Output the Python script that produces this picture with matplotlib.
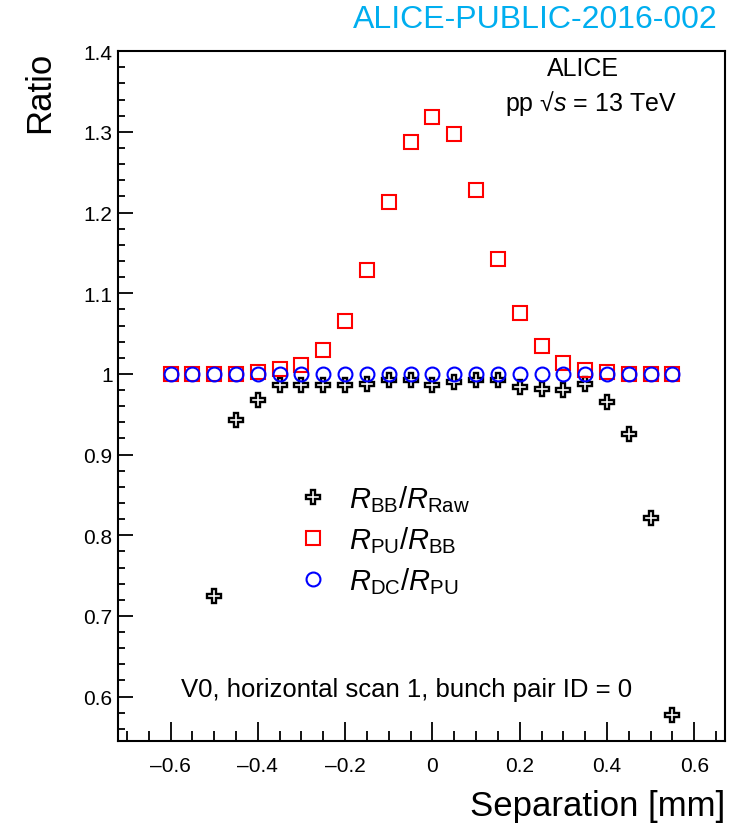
import matplotlib
matplotlib.use("Agg")
import matplotlib.pyplot as plt
from matplotlib.ticker import MultipleLocator, FuncFormatter

plt.rcParams["font.family"] = ["Liberation Sans", "DejaVu Sans"]
plt.rcParams["mathtext.fontset"] = "custom"
plt.rcParams["mathtext.rm"] = "Liberation Sans"
plt.rcParams["mathtext.it"] = "Liberation Sans:italic"
plt.rcParams["mathtext.bf"] = "Liberation Sans:bold"

# separation [mm]
sep = [-0.60, -0.55, -0.50, -0.45, -0.40, -0.35, -0.30, -0.25, -0.20, -0.15, -0.10, -0.05,
       0.00, 0.05, 0.10, 0.15, 0.20, 0.25, 0.30, 0.35, 0.40, 0.45, 0.50, 0.55]

# R_BB / R_Raw (first two points fall below the plotted range)
sep_bb = sep[2:]
bb_raw = [0.725, 0.943, 0.968, 0.986, 0.986, 0.986, 0.986, 0.988, 0.992, 0.993,
          0.986, 0.990, 0.992, 0.992, 0.984, 0.981, 0.980, 0.988, 0.965, 0.925,
          0.821, 0.577]

# R_PU / R_BB
pu_bb = [1.000, 1.000, 1.000, 1.000, 1.002, 1.006, 1.011, 1.030, 1.066, 1.129, 1.213, 1.287,
         1.319, 1.298, 1.228, 1.143, 1.075, 1.034, 1.013, 1.005, 1.002, 1.000, 1.000, 1.000]

# R_DC / R_PU
dc_pu = [1.000] * len(sep)

fig = plt.figure(figsize=(7.48, 8.29), dpi=100)
ax = fig.add_axes([0.158, 0.105, 0.811, 0.832])

h1, = ax.plot(sep_bb, bb_raw, linestyle="none", marker="P", markersize=10,
              markerfacecolor="white", markeredgecolor="black", markeredgewidth=1.7,
              label=r"$R_{\rm BB}/R_{\rm Raw}$")
h2, = ax.plot(sep, pu_bb, linestyle="none", marker="s", markersize=10.5,
              markerfacecolor="none", markeredgecolor="#ff0000", markeredgewidth=1.5,
              label=r"$R_{\rm PU}/R_{\rm BB}$")
h3, = ax.plot(sep, dc_pu, linestyle="none", marker="o", markersize=10,
              markerfacecolor="none", markeredgecolor="#0000ff", markeredgewidth=1.5,
              label=r"$R_{\rm DC}/R_{\rm PU}$")

ax.set_xlim(-0.72, 0.67)
ax.set_ylim(0.545, 1.40)

ax.xaxis.set_major_locator(MultipleLocator(0.2))
ax.xaxis.set_minor_locator(MultipleLocator(0.05))
ax.yaxis.set_major_locator(MultipleLocator(0.1))
ax.yaxis.set_minor_locator(MultipleLocator(0.02))


def fmt(v, pos):
    s = f"{round(v, 3):g}"
    if s == "-0":
        s = "0"
    return s.replace("-", "\u2013")


ax.xaxis.set_major_formatter(FuncFormatter(fmt))
ax.yaxis.set_major_formatter(FuncFormatter(fmt))

ax.tick_params(axis="both", which="both", direction="in", top=False, right=False,
               labelsize=15, width=1.3)
ax.tick_params(axis="x", which="major", length=14, pad=11)
ax.tick_params(axis="x", which="minor", length=7)
ax.tick_params(axis="y", which="major", length=11, pad=4)
ax.tick_params(axis="y", which="minor", length=5)
for sp in ax.spines.values():
    sp.set_linewidth(1.5)

ax.set_xlabel("Separation [mm]", fontsize=25, loc="right", labelpad=10)
ax.set_ylabel("Ratio", fontsize=25, loc="top", labelpad=20)

ax.text(0.766, 0.975, "ALICE", transform=ax.transAxes, fontsize=18,
        ha="center", va="center")
ax.text(0.779, 0.926, "pp \u221a$s$ = 13 TeV", transform=ax.transAxes, fontsize=18,
        ha="center", va="center")
ax.text(0.476, 0.075, "V0, horizontal scan 1, bunch pair ID = 0", transform=ax.transAxes,
        fontsize=18.5, ha="center", va="center")

ax.legend(handles=[h1, h2, h3], loc="upper left", bbox_to_anchor=(0.2965, 0.374),
          frameon=False, fontsize=21, handlelength=1.0, handletextpad=0.75,
          borderpad=0, borderaxespad=0, labelspacing=0.36)

fig.text(0.959, 0.976, "ALICE-PUBLIC-2016-002", color="#00aeef", fontsize=23,
         ha="right", va="center")

fig.savefig("out.png", dpi=100)
